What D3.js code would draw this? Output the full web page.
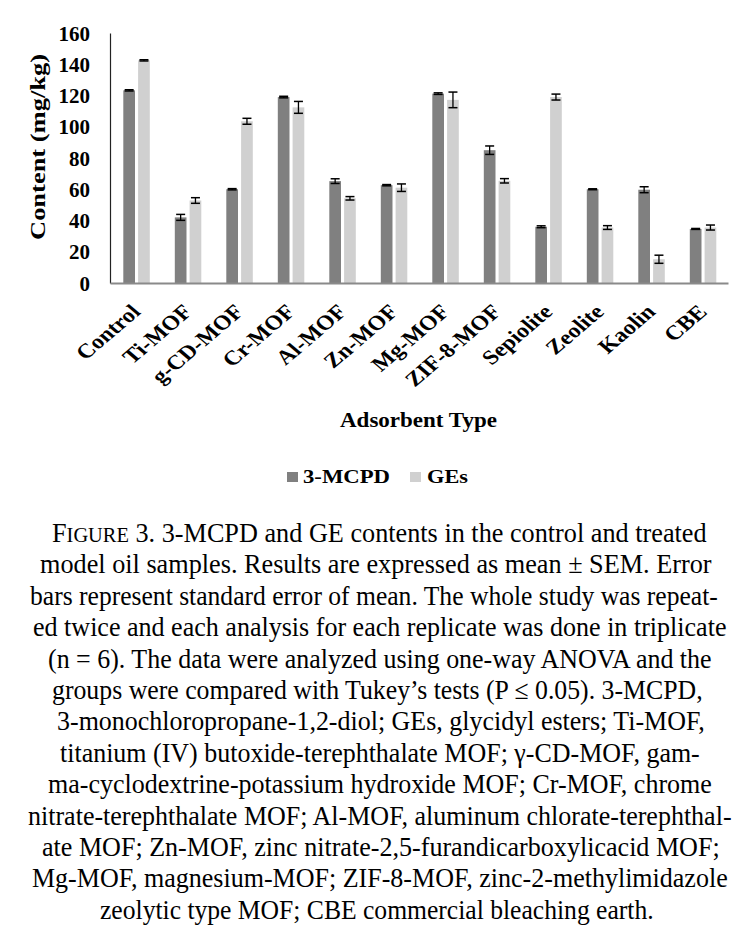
<!DOCTYPE html>
<html>
<head>
<meta charset="utf-8">
<script src="https://cdn.jsdelivr.net/npm/d3@7"></script>
<style>
  html, body { margin: 0; padding: 0; background: #fff; }
  svg { display: block; }
</style>
</head>
<body>
<svg id="chart" width="748" height="944"></svg>
<script>
const categories = ["Control","Ti-MOF","g-CD-MOF","Cr-MOF","Al-MOF","Zn-MOF","Mg-MOF","ZIF-8-MOF","Sepiolite","Zeolite","Kaolin","CBE"];
const seriesNames = ["3-MCPD","GEs"];
const mcpdValues = [123.3, 42, 60, 119, 65.2, 62.6, 121.2, 85, 36, 60, 59.7, 34.6];
const mcpdErrors = [0.4, 1.9, 0.4, 0.5, 1.5, 0.4, 0.5, 2.7, 0.6, 0.3, 1.9, 0.3];
const gesValues  = [142.5, 52.8, 103.5, 112.4, 54.2, 61, 117.2, 65.4, 119, 35.5, 15.2, 35.5];
const gesErrors  = [0.4, 1.8, 1.9, 3.8, 1.1, 2.4, 5, 1.4, 1.9, 1.2, 2.6, 1.6];
const yTicks = [0, 20, 40, 60, 80, 100, 120, 140, 160];
const yTitle = "Content (mg/kg)";
const xTitle = "Adsorbent Type";
const captionLines = [
  "3. 3-MCPD and GE contents in the control and treated",
  "model oil samples. Results are expressed as mean \u00b1 SEM. Error",
  "bars represent standard error of mean. The whole study was repeat-",
  "ed twice and each analysis for each replicate was done in triplicate",
  "(n = 6). The data were analyzed using one-way ANOVA and the",
  "groups were compared with Tukey\u2019s tests (P \u2264 0.05). 3-MCPD,",
  "3-monochloropropane-1,2-diol; GEs, glycidyl esters; Ti-MOF,",
  "titanium (IV) butoxide-terephthalate MOF; \u03b3-CD-MOF, gam-",
  "ma-cyclodextrine-potassium hydroxide MOF; Cr-MOF, chrome",
  "nitrate-terephthalate MOF; Al-MOF, aluminum chlorate-terephthal-",
  "ate MOF; Zn-MOF, zinc nitrate-2,5-furandicarboxylicacid MOF;",
  "Mg-MOF, magnesium-MOF; ZIF-8-MOF, zinc-2-methylimidazole",
  "zeolytic type MOF; CBE commercial bleaching earth."
];
const captionExtents = [[52,707],[40,712],[30,718],[33,727],[48,712],[52,703],[57,705],[60,700],[48,712],[28,732],[42,720],[32,728],[100,654]];

const colors = {"3-MCPD": "#808080", "GEs": "#d0d0d0"};
const serif = "Liberation Serif, Times New Roman, serif";

const svg = d3.select("#chart");
const x0 = d3.scaleBand().domain(categories).range([110, 728]).paddingInner(0).paddingOuter(0);
const x1 = d3.scaleBand().domain(seriesNames).range([13.3, 39.8]).paddingInner(0.21).paddingOuter(0);
const y = d3.scaleLinear().domain([0, 160]).range([283, 33]);

const data = categories.map((c, i) => ({
  cat: c,
  vals: [
    {s: "3-MCPD", v: mcpdValues[i], e: mcpdErrors[i]},
    {s: "GEs", v: gesValues[i], e: gesErrors[i]}
  ]
}));

// bars
const g = svg.append("g");
const groups = g.selectAll("g.cat").data(data).join("g")
  .attr("transform", d => `translate(${x0(d.cat)},0)`);
groups.selectAll("rect").data(d => d.vals).join("rect")
  .attr("x", d => x1(d.s))
  .attr("width", x1.bandwidth())
  .attr("y", d => y(d.v))
  .attr("height", d => y(0) - y(d.v))
  .attr("fill", d => colors[d.s]);

// error bars
const capW = 9;
const eb = groups.selectAll("g.err").data(d => d.vals).join("g").attr("class", "err");
eb.append("line")
  .attr("x1", d => x1(d.s) + x1.bandwidth() / 2)
  .attr("x2", d => x1(d.s) + x1.bandwidth() / 2)
  .attr("y1", d => y(d.v + d.e))
  .attr("y2", d => y(d.v - d.e))
  .attr("stroke", "#000").attr("stroke-width", 1.3);
[1, -1].forEach(sign => {
  eb.append("line")
    .attr("x1", d => x1(d.s) + x1.bandwidth() / 2 - capW / 2)
    .attr("x2", d => x1(d.s) + x1.bandwidth() / 2 + capW / 2)
    .attr("y1", d => y(d.v + sign * d.e))
    .attr("y2", d => y(d.v + sign * d.e))
    .attr("stroke", "#000").attr("stroke-width", 1.5);
});

// y axis
const yAxis = d3.axisLeft(y).tickValues(yTicks).tickSize(0).tickPadding(20);
const yg = svg.append("g").attr("transform", "translate(110,0)").call(yAxis);
yg.select(".domain").attr("stroke", "#222").attr("stroke-width", 1.2);
yg.selectAll(".tick text")
  .attr("font-family", serif).attr("font-weight", "bold").attr("font-size", 21)
  .attr("fill", "#000").attr("dy", "0.34em");

// x axis
const xAxis = d3.axisBottom(x0).tickSize(0).tickPadding(0);
const xg = svg.append("g").attr("transform", "translate(0,283)").call(xAxis);
xg.select(".domain").attr("stroke", "#8a8a8a").attr("stroke-width", 2);
xg.selectAll(".tick text")
  .attr("font-family", serif).attr("font-weight", "bold").attr("font-size", 20.5)
  .attr("fill", "#000")
  .attr("text-anchor", "end")
  .attr("y", 0).attr("dy", 0)
  .attr("transform", "translate(6,30) scale(1.17,1) rotate(-45)");

// axis titles
svg.append("text")
  .attr("transform", "translate(45,147) rotate(-90)")
  .attr("text-anchor", "middle")
  .attr("font-family", serif).attr("font-weight", "bold").attr("font-size", 22)
  .attr("textLength", 186).attr("lengthAdjust", "spacingAndGlyphs")
  .text(yTitle);
svg.append("text")
  .attr("x", 340).attr("y", 427)
  .attr("font-family", serif).attr("font-weight", "bold").attr("font-size", 21)
  .attr("textLength", 157).attr("lengthAdjust", "spacingAndGlyphs")
  .text(xTitle);

// legend
const legendItems = [
  {s: "3-MCPD", sx: 287, tx: 303, tw: 87},
  {s: "GEs", sx: 410, tx: 427, tw: 41}
];
const lg = svg.append("g");
lg.selectAll("rect").data(legendItems).join("rect")
  .attr("x", d => d.sx).attr("y", 472).attr("width", 11).attr("height", 10)
  .attr("fill", d => colors[d.s]);
lg.selectAll("text").data(legendItems).join("text")
  .attr("x", d => d.tx).attr("y", 483)
  .attr("font-family", serif).attr("font-weight", "bold").attr("font-size", 19)
  .attr("textLength", d => d.tw).attr("lengthAdjust", "spacingAndGlyphs")
  .text(d => d.s);

// caption: each line is scaled horizontally to the width it has in the figure
const cap = svg.append("g");
captionLines.forEach((line, i) => {
  const t = cap.append("text")
    .attr("x", 0).attr("y", 0)
    .attr("font-family", serif).attr("font-size", 27).attr("fill", "#000");
  if (i === 0) {
    t.append("tspan").text("F");
    t.append("tspan").attr("font-size", 21).text("IGURE");
    t.append("tspan").text(" " + line);
  } else {
    t.text(line);
  }
  const natural = t.node().getComputedTextLength();
  const target = captionExtents[i][1] - captionExtents[i][0];
  t.attr("transform", `translate(${captionExtents[i][0]},${542 + i * 31.4}) scale(${target / natural},1)`);
});
</script>
</body>
</html>
